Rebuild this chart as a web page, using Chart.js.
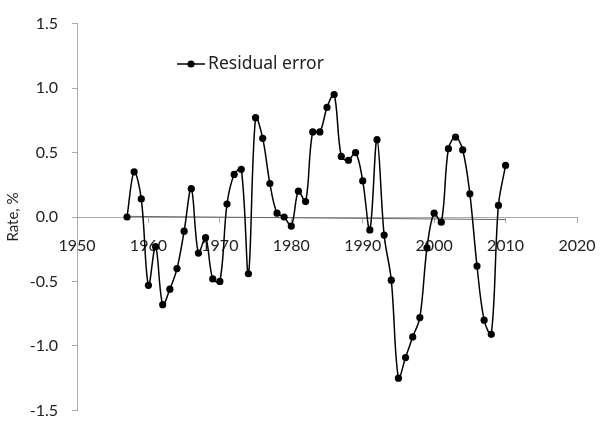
<!DOCTYPE html>
<html>
<head>
<meta charset="utf-8">
<script src="https://cdn.jsdelivr.net/npm/chart.js@4.4.1/dist/chart.umd.min.js"></script>
<style>
  html, body { margin: 0; padding: 0; background: #fff; }
  #wrap { width: 602px; height: 434px; }
</style>
</head>
<body>
<div id="wrap"><canvas id="myChart"></canvas></div>
<script>
// residual error by year
var years = [1957, 1958, 1959, 1960, 1961, 1962, 1963, 1964, 1965, 1966,
             1967, 1968, 1969, 1970, 1971, 1972, 1973, 1974, 1975, 1976,
             1977, 1978, 1979, 1980, 1981, 1982, 1983, 1984, 1985, 1986,
             1987, 1988, 1989, 1990, 1991, 1992, 1993, 1994, 1995, 1996,
             1997, 1998, 1999, 2000, 2001, 2002, 2003, 2004, 2005, 2006,
             2007, 2008, 2009, 2010];
var residual = [0.00, 0.35, 0.14, -0.53, -0.23, -0.68, -0.56, -0.40, -0.11, 0.22,
                -0.28, -0.16, -0.48, -0.50, 0.10, 0.33, 0.37, -0.44, 0.77, 0.61,
                0.26, 0.03, 0.00, -0.07, 0.20, 0.12, 0.66, 0.66, 0.85, 0.95,
                0.47, 0.44, 0.50, 0.28, -0.10, 0.60, -0.14, -0.49, -1.25, -1.09,
                -0.93, -0.78, -0.24, 0.03, -0.04, 0.53, 0.62, 0.52, 0.18, -0.38,
                -0.80, -0.91, 0.09, 0.40];
// linear trend line end points
var trendYears = [1957, 2010];
var trendValues = [0.005, -0.02];

var xTicks = [1950, 1960, 1970, 1980, 1990, 2000, 2010, 2020];

var points = years.map(function (y, i) { return { x: y, y: residual[i] }; });
var trend = trendYears.map(function (y, i) { return { x: y, y: trendValues[i] }; });

// legend drawn inside the plot, like the original
var innerLegend = {
    id: 'innerLegend',
    afterDraw: function (chart) {
        var c = chart.ctx;
        var x0 = 177, y0 = 64;
        c.save();
        c.strokeStyle = '#000';
        c.lineWidth = 1.5;
        c.beginPath();
        c.moveTo(x0, y0);
        c.lineTo(x0 + 28, y0);
        c.stroke();
        c.fillStyle = '#000';
        c.beginPath();
        c.arc(x0 + 14, y0, 3.6, 0, Math.PI * 2);
        c.fill();
        c.font = '17.5px "Noto Sans"';
        c.fillStyle = '#222';
        c.textBaseline = 'middle';
        c.fillText(chart.data.datasets[0].label, x0 + 31, y0);
        c.restore();
    }
};

var ctx = document.getElementById('myChart');
var myChart = new Chart(ctx, {
    type: 'line',
    data: {
        datasets: [{
            label: 'Residual error',
            data: points,
            borderColor: '#000',
            backgroundColor: '#000',
            borderWidth: 1.5,
            pointRadius: 3.6,
            pointBorderWidth: 0,
            tension: 0.35
        }, {
            label: 'Trend',
            data: trend,
            borderColor: '#666',
            borderWidth: 1,
            pointRadius: 0,
            tension: 0
        }]
    },
    options: {
        responsive: true,
        maintainAspectRatio: false,
        animation: false,
        layout: {
            padding: { left: 0, right: 25, top: 22, bottom: 23 }
        },
        scales: {
            x: {
                type: 'linear',
                min: 1950,
                max: 2020,
                position: { y: 0 },
                afterBuildTicks: function (scale) {
                    scale.ticks = xTicks.map(function (v) { return { value: v }; });
                },
                afterFit: function (scale) {
                    scale.paddingLeft = 0;
                    scale.paddingRight = 0;
                },
                ticks: {
                    callback: function (v) { return String(v); },
                    font: { family: 'Lato', size: 16 },
                    color: '#222',
                    padding: 14,
                    maxRotation: 0
                },
                grid: {
                    drawOnChartArea: false,
                    tickLength: 5,
                    color: '#aaa'
                },
                border: { color: '#aaa' }
            },
            y: {
                min: -1.5,
                max: 1.5,
                afterFit: function (scale) { scale.width = 77; },
                ticks: {
                    stepSize: 0.5,
                    callback: function (v) { return v.toFixed(1); },
                    font: { family: 'Lato', size: 16 },
                    color: '#222',
                    padding: 14
                },
                grid: {
                    drawOnChartArea: false,
                    tickLength: 5,
                    color: '#aaa'
                },
                border: { color: '#aaa' },
                title: {
                    display: true,
                    text: 'Rate, %',
                    font: { family: 'Lato', size: 15 },
                    color: '#222'
                }
            }
        },
        plugins: {
            legend: { display: false },
            tooltip: { enabled: false }
        }
    },
    plugins: [innerLegend]
});
</script>
</body>
</html>
